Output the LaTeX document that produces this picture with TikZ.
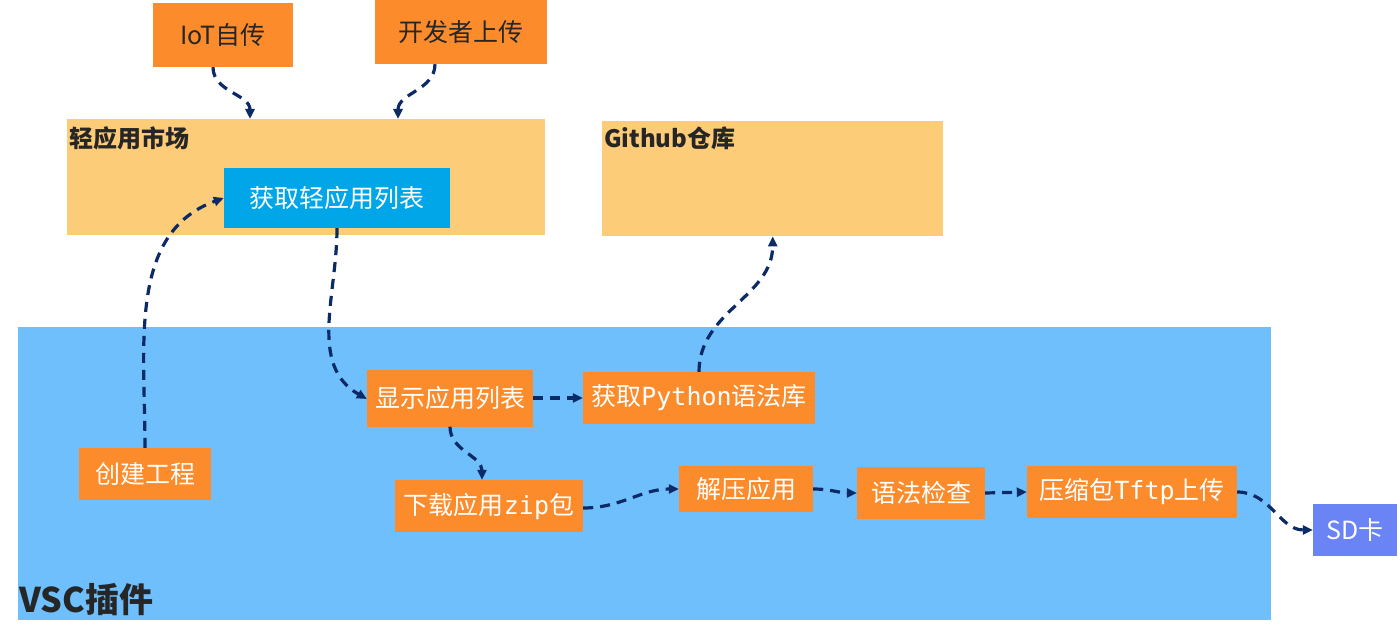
\documentclass[tikz,border=0pt]{standalone}
\usepackage{fontspec}
\setmainfont{Noto Sans CJK SC}
\setmonofont{DejaVu Sans Mono}
\usetikzlibrary{arrows.meta, positioning}

\definecolor{boxorange}{RGB}{251,139,43}
\definecolor{areaorange}{RGB}{253,204,120}
\definecolor{areablue}{RGB}{110,191,251}
\definecolor{listblue}{RGB}{0,166,232}
\definecolor{sdblue}{RGB}{106,132,246}
\definecolor{arrowblue}{RGB}{11,42,102}

\begin{document}
\begin{tikzpicture}[
    x=1pt, y=-1pt,
    % Styles for areas, blocks and arrows
    area/.style={fill=#1, inner sep=0pt, anchor=north west},
    title/.style={anchor=west, inner sep=0pt, font=\fontsize{24}{24}\selectfont\bfseries, text=black!85},
    block/.style={fill=boxorange, inner sep=0pt, text=white, font=\fontsize{25}{25}\selectfont},
    srcblock/.style={block, text=black!85},
    connector/.style={-{Triangle[length=10pt,width=9pt]}, arrowblue, line width=3.2pt, dash pattern=on 10pt off 7pt}
]
    \useasboundingbox (0,0) rectangle (1400,639);

    % --- AREAS ---
    \node [area=areaorange, minimum width=478pt, minimum height=116pt] (market) at (67,119) {};
    \node [area=areaorange, minimum width=341pt, minimum height=115pt] (github) at (602,121) {};
    \node [area=areablue, minimum width=1253pt, minimum height=293pt] (vsc) at (18,327) {};

    \node [title] (markettitle) at (69,138) {轻应用市场};
    \node [title] (githubtitle) at (604,138) {Github仓库};
    \node [title, font=\fontsize{34}{34}\selectfont\bfseries] (vsctitle) at (19,600) {VSC插件};

    % --- NODES ---
    \node [srcblock, minimum width=140pt, minimum height=64pt] (iot) at (223,35) {IoT自传};
    \node [srcblock, minimum width=172pt, minimum height=64pt] (dev) at (461,32) {开发者上传};
    \node [block, fill=listblue, minimum width=226pt, minimum height=60pt] (getlist) at (337,198) {获取轻应用列表};

    \node [block, minimum width=166pt, minimum height=57pt] (showlist) at (450,398) {显示应用列表};
    \node [block, minimum width=232pt, minimum height=52pt] (pylib) at (699,398) {获取\texttt{Python}语法库};
    \node [block, minimum width=132pt, minimum height=52pt] (create) at (145,474) {创建工程};
    \node [block, minimum width=188pt, minimum height=52pt] (download) at (489,506) {下载应用\texttt{zip}包};
    \node [block, minimum width=134pt, minimum height=46pt] (unzip) at (746,489) {解压应用};
    \node [block, minimum width=128pt, minimum height=52pt] (check) at (921,493) {语法检查};
    \node [block, minimum width=210pt, minimum height=52pt] (upload) at (1132,492) {压缩包\texttt{Tftp}上传};
    \node [block, fill=sdblue, minimum width=84pt, minimum height=52pt] (sd) at (1355,530) {SD卡};

    % --- CONNECTIONS ---
    % Uploads into the market
    \draw [connector] ([xshift=-10pt]iot.south) to[out=-90, in=90] ([xshift=183pt]market.north west);
    \draw [connector] ([xshift=-26pt]dev.south) to[out=-90, in=90] ([xshift=331pt]market.north west);

    % Plugin <-> market and repository
    \draw [connector] (create.north) to[out=90, in=200] (getlist.west);
    \draw [connector] (getlist.south) to[out=-90, in=150] ([yshift=-1pt]showlist.west);
    \draw [connector] (showlist.east) -- (pylib.west);
    \draw [connector] (pylib.north) to[out=90, in=-90] (github.south);

    % Build and upload chain
    \draw [connector] (showlist.south) to[out=-90, in=90] ([xshift=-7pt]download.north);
    \draw [connector] ([yshift=-2pt]download.east) to[out=0, in=180] (unzip.west);
    \draw [connector] (unzip.east) to[out=0, in=180] (check.west);
    \draw [connector] (check.east) -- (upload.west);
    \draw [connector] (upload.east) to[out=0, in=180] (sd.west);

\end{tikzpicture}
\end{document}
